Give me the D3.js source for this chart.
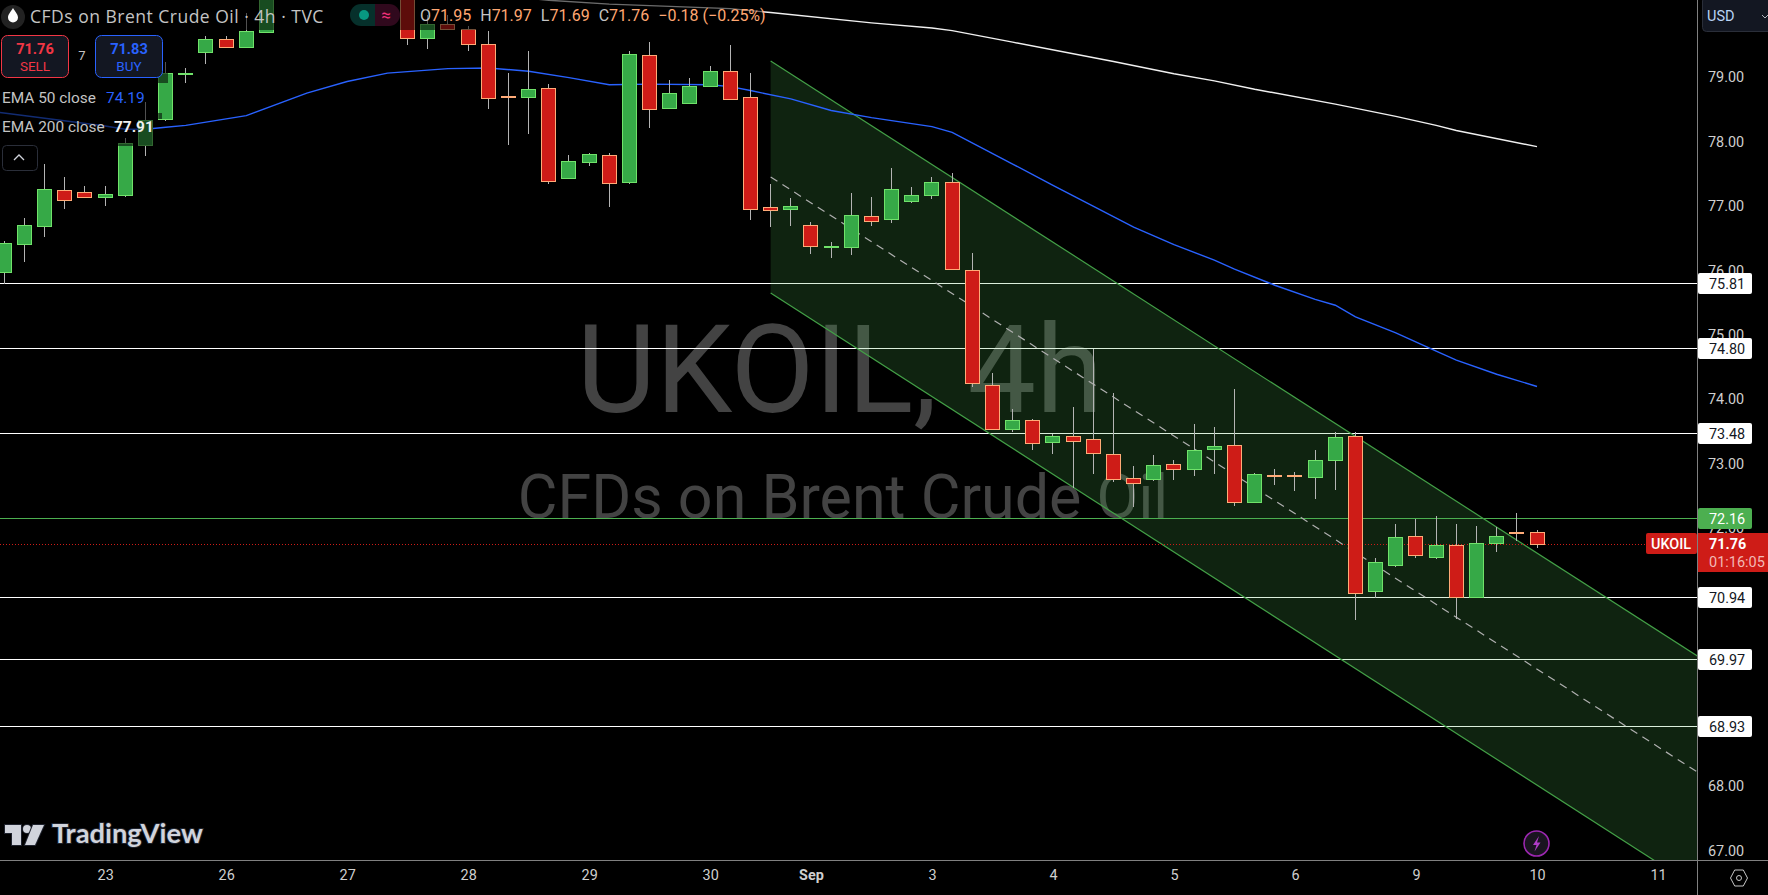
<!DOCTYPE html>
<html>
<head>
<meta charset="utf-8">
<style>
  html, body { margin: 0; padding: 0; background: #000; overflow: hidden; }
  svg { display: block; font-family: Roboto, "Open Sans", sans-serif; }
</style>
<script src="https://cdn.jsdelivr.net/npm/d3@7"></script>
</head>
<body>
<svg id="chart" width="1768" height="895"></svg>
<script>
// candles, one per 4h bar. null = above the visible part of the chart
const opens = [75.98,76.40,76.68,77.24,77.21,77.13,77.16,77.96,78.35,79.05,79.39,79.59,79.46,79.70,null,null,null,null,null,null,80.50,79.61,79.82,79.74,79.51,78.70,78.69,78.83,77.42,77.67,77.79,77.36,79.34,78.51,78.60,78.85,79.09,78.69,76.98,76.96,76.70,76.37,76.37,76.84,76.79,77.07,77.17,77.37,76.00,74.23,73.54,73.68,73.34,73.43,73.38,73.16,72.78,72.77,72.99,72.92,73.22,73.29,72.40,72.82,72.82,72.79,73.05,73.43,71.02,71.42,71.88,71.56,71.74,70.94,71.77,71.95,71.95];
const highs = [76.46,76.81,77.65,77.45,77.31,77.31,78.05,78.62,79.23,79.14,79.64,79.64,79.99,80.60,null,null,null,null,null,null,80.60,79.96,79.96,79.79,79.71,79.06,79.40,78.89,77.79,77.82,77.82,79.40,79.54,78.95,78.99,79.17,79.50,79.06,77.34,77.12,76.75,76.44,77.20,77.14,77.59,77.29,77.45,77.51,76.27,74.41,73.85,73.70,73.46,73.88,74.78,74.10,72.97,73.14,73.06,73.62,73.57,74.16,72.86,72.92,72.87,73.22,73.49,73.49,71.54,72.07,72.14,72.19,72.07,72.04,72.02,72.24,71.97];
const lows = [75.79,76.13,76.52,76.95,77.12,77.00,77.14,77.78,78.32,78.91,79.20,79.45,79.45,79.68,null,null,null,null,null,null,79.49,79.44,79.73,79.40,78.50,77.94,78.12,77.34,77.42,77.62,76.99,77.34,78.21,78.51,78.60,78.85,78.66,76.78,76.67,76.69,76.26,76.20,76.24,76.69,76.74,77.04,77.11,76.02,74.19,73.54,73.49,73.22,73.15,72.62,72.84,72.72,72.33,72.73,72.75,72.81,72.84,72.35,72.40,72.67,72.58,72.46,72.60,70.58,70.92,71.40,71.54,71.52,70.59,70.94,71.63,71.80,71.69];
const closes = [76.43,76.70,77.26,77.08,77.14,77.18,77.97,78.34,79.06,79.06,79.59,79.47,79.71,80.50,null,null,null,null,null,null,79.60,79.82,79.75,79.50,78.68,78.69,78.81,77.39,77.69,77.80,77.36,79.35,78.50,78.75,78.86,79.09,78.66,76.96,76.94,77.00,76.37,76.38,76.86,76.77,77.26,77.17,77.37,76.02,74.25,73.54,73.68,73.33,73.43,73.36,73.17,72.77,72.71,72.98,72.92,73.21,73.27,72.41,72.84,72.81,72.80,73.06,73.41,71.00,71.47,71.86,71.58,71.74,70.94,71.78,71.88,71.93,71.76];

// moving averages, bar index and value at the bends
const ema50Bars = [-1,5,6,7,8,9,12,15,17,19,22,24,26,28,30,32,35,36,37,39,41,43,46,47,50,52,56,58,60,61,63,65,66,67,69,71,72,74,76];
const ema50Values = [78.48,78.24,78.19,78.19,78.22,78.25,78.40,78.75,78.93,79.06,79.13,79.14,79.09,78.99,78.88,78.89,78.88,78.85,78.79,78.66,78.48,78.37,78.23,78.14,77.65,77.32,76.67,76.40,76.16,76.02,75.77,75.55,75.46,75.28,75.03,74.75,74.61,74.39,74.20];
const ema200Bars = [20,27,30,36,38,43,46,47,50,55,58,60,62,66,69,71,72,76];
const ema200Values = [80.40,80.19,80.13,80.06,80.00,79.84,79.76,79.72,79.54,79.24,79.05,78.94,78.81,78.58,78.39,78.25,78.17,77.92];

// regression channel, two ends
const channelBars = [38, 84];
const channelTop = [79.25, 70.01];
const channelBottom = [75.65, 66.41];
const channelMiddle = [77.45, 68.21];

const whiteLevels = [75.81, 74.80, 73.48, 70.94, 69.97, 68.93];
const greenLevel = 72.16;
const lastPrice = 71.76;

const priceTicks = [79, 78, 77, 76, 75, 74, 73, 72, 68, 67];
const dateBars = [5, 11, 17, 23, 29, 35, 40, 46, 52, 58, 64, 70, 76, 82];
const dateLabels = ["23", "26", "27", "28", "29", "30", "Sep", "3", "4", "5", "6", "9", "10", "11"];

const plotRight = 1697;
const plotBottom = 860;

const svg = d3.select("#chart");
const x = d3.scaleLinear().domain([0, 76]).range([4.3, 1537]);
const y = d3.scaleLinear().domain([67, 79]).range([850.7, 77]);

svg.append("defs").append("clipPath").attr("id", "plot")
  .append("rect").attr("width", plotRight).attr("height", plotBottom);

const plot = svg.append("g").attr("clip-path", "url(#plot)");

// watermark
plot.append("text").attr("x", 840).attr("y", 412).attr("text-anchor", "middle")
  .attr("font-size", 122).attr("fill", "#434343").text("UKOIL, 4h");
plot.append("text").attr("x", 843).attr("y", 518).attr("text-anchor", "middle")
  .attr("font-size", 61).attr("fill", "#434343").text("CFDs on Brent Crude Oil");

// horizontal levels
whiteLevels.forEach(v => {
  plot.append("line").attr("x1", 0).attr("x2", plotRight)
    .attr("y1", Math.round(y(v)) + 0.5).attr("y2", Math.round(y(v)) + 0.5)
    .attr("stroke", "#fff").attr("stroke-width", 1);
});
plot.append("line").attr("x1", 0).attr("x2", plotRight)
  .attr("y1", Math.round(y(greenLevel)) + 0.5).attr("y2", Math.round(y(greenLevel)) + 0.5)
  .attr("stroke", "#4caf50").attr("stroke-width", 1);

// channel
const area = d3.area()
  .x((d, i) => x(channelBars[i]))
  .y0((d, i) => y(channelBottom[i]))
  .y1((d, i) => y(channelTop[i]));
plot.append("path").attr("d", area(channelBars))
  .attr("fill", "#4caf50").attr("fill-opacity", 0.2);

const channelLine = d3.line().x((d, i) => x(channelBars[i])).y(d => y(d));
plot.append("path").attr("d", channelLine(channelTop)).attr("fill", "none").attr("stroke", "#43a047").attr("stroke-width", 1.2);
plot.append("path").attr("d", channelLine(channelBottom)).attr("fill", "none").attr("stroke", "#43a047").attr("stroke-width", 1.2);
plot.append("path").attr("d", channelLine(channelMiddle)).attr("fill", "none").attr("stroke", "#b0b0b0")
  .attr("stroke-width", 1.2).attr("stroke-dasharray", "8 6");

// last price line
plot.append("line").attr("x1", 0).attr("x2", plotRight)
  .attr("y1", Math.round(y(lastPrice)) + 0.5).attr("y2", Math.round(y(lastPrice)) + 0.5)
  .attr("stroke", "#ce1c17").attr("stroke-width", 1).attr("stroke-dasharray", "1 2");

// ema lines
const emaLine = bars => d3.line().x((d, i) => x(bars[i])).y(d => y(d));
plot.append("path").attr("d", emaLine(ema50Bars)(ema50Values))
  .attr("fill", "none").attr("stroke", "#2962ff").attr("stroke-width", 1.4);
plot.append("path").attr("d", emaLine(ema200Bars)(ema200Values))
  .attr("fill", "none").attr("stroke", "#f0f0f0").attr("stroke-width", 1.4);

// candles
const bars = d3.range(opens.length).filter(i => opens[i] !== null);
const candles = plot.append("g").selectAll("g").data(bars).enter().append("g")
  .attr("shape-rendering", "crispEdges");

candles.append("line")
  .attr("x1", i => Math.floor(x(i)) + 0.5).attr("x2", i => Math.floor(x(i)) + 0.5)
  .attr("y1", i => y(highs[i])).attr("y2", i => y(lows[i]))
  .attr("stroke", "#b4b4b4");

candles.append("rect")
  .attr("x", i => Math.floor(x(i)) - 6.5)
  .attr("width", 14)
  .attr("y", i => Math.round(y(Math.max(opens[i], closes[i]))) + 0.5)
  .attr("height", i => Math.max(1, Math.round(y(Math.min(opens[i], closes[i])) - y(Math.max(opens[i], closes[i])))))
  .attr("fill", i => closes[i] >= opens[i] ? "#36a947" : "#ce1c17")
  .attr("stroke", i => closes[i] >= opens[i] ? "#70e26a" : "#ffab78");

// legend panels dim whatever is under them
const shades = [[0, 0, 762, 30], [0, 30, 168, 53], [0, 84, 150, 29], [0, 113, 162, 6], [0, 119, 153, 27]];
svg.append("g").selectAll("rect").data(shades).enter().append("rect")
  .attr("x", d => d[0]).attr("y", d => d[1]).attr("width", d => d[2]).attr("height", d => d[3])
  .attr("fill", "#000").attr("fill-opacity", 0.55);

// axes
const yAxis = d3.axisRight(y).tickValues(priceTicks).tickSize(0).tickPadding(11).tickFormat(d3.format(".2f"));
const yAxisG = svg.append("g").attr("transform", `translate(${plotRight},0)`).call(yAxis);
yAxisG.select(".domain").remove();
yAxisG.selectAll("text").attr("font-family", "Roboto").attr("font-size", 14.4).attr("fill", "#cfcfcf");

const xAxis = d3.axisBottom(x).tickValues(dateBars).tickSize(0).tickPadding(10)
  .tickFormat(d => dateLabels[dateBars.indexOf(d)]);
const xAxisG = svg.append("g").attr("transform", `translate(0,${plotBottom})`).call(xAxis);
xAxisG.select(".domain").remove();
xAxisG.selectAll("text").attr("font-family", "Roboto").attr("font-size", 14.4).attr("fill", "#cfcfcf")
  .attr("font-weight", d => d === 40 ? 700 : 400);

svg.append("line").attr("x1", 0).attr("x2", 1768).attr("y1", 860.5).attr("y2", 860.5).attr("stroke", "#808080");
svg.append("line").attr("x1", plotRight + 0.5).attr("x2", plotRight + 0.5).attr("y1", 0).attr("y2", 895).attr("stroke", "#808080");

// price tags
function priceTag(v, bg, fg) {
  const cy = y(v);
  svg.append("rect").attr("x", 1698).attr("y", Math.round(cy) - 10).attr("width", 54).attr("height", 21)
    .attr("rx", 2).attr("fill", bg);
  svg.append("text").attr("x", 1709).attr("y", Math.round(cy) + 5.5).attr("font-size", 14.4)
    .attr("fill", fg).text(v.toFixed(2));
}
whiteLevels.forEach(v => priceTag(v, "#fff", "#131722"));
priceTag(greenLevel, "#4caf50", "#fff");

svg.append("rect").attr("x", 1646).attr("y", 533).attr("width", 51).attr("height", 21).attr("rx", 2).attr("fill", "#ce1c17");
svg.append("text").attr("x", 1651).attr("y", 549).attr("font-size", 14.4).attr("font-weight", 500).attr("fill", "#fff").text("UKOIL");
svg.append("rect").attr("x", 1698).attr("y", 533).attr("width", 70).attr("height", 39).attr("fill", "#ce1c17");
svg.append("text").attr("x", 1709).attr("y", 549).attr("font-size", 14.4).attr("font-weight", 700).attr("fill", "#fff").text(lastPrice.toFixed(2));
svg.append("text").attr("x", 1709).attr("y", 567).attr("font-size", 14.5).attr("fill", "#f2b8b5").text("01:16:05");

// currency button
svg.append("rect").attr("x", 1702.5).attr("y", -3).attr("width", 80).attr("height", 34.5).attr("rx", 4)
  .attr("fill", "#131722").attr("stroke", "#2a2e39");
svg.append("text").attr("x", 1707).attr("y", 21).attr("font-size", 14.5).attr("fill", "#b9d4f5").text("USD");
svg.append("path").attr("d", "M1762 15l3 3l3-3").attr("fill", "none").attr("stroke", "#b2b5be");

// settings hexagon
svg.append("path").attr("d", "M1730.5 878l4.2-8h8.6l4.2 8l-4.2 8h-8.6z").attr("fill", "none").attr("stroke", "#c8c8c8");
svg.append("circle").attr("cx", 1739).attr("cy", 878).attr("r", 2.5).attr("fill", "none").attr("stroke", "#c8c8c8");

// lightning badge
svg.append("circle").attr("cx", 1536.5).attr("cy", 843.5).attr("r", 12.5).attr("fill", "#1a1420").attr("stroke", "#9c27b0").attr("stroke-width", 1.6);
svg.append("path").attr("d", "M1539 836l-6 9h3.5l-2 6.5l6-9h-3.5z").attr("fill", "#b03cc8");

// top legend
svg.append("circle").attr("cx", 13).attr("cy", 17).attr("r", 12).attr("fill", "#222");
svg.append("path").attr("d", "M13 8c-2.5 4-5 6.5-5 9.5a5 5 0 0 0 10 0c0-3-2.500-5.500-5-9.500z").attr("fill", "#fff");
svg.append("text").attr("x", 30).attr("y", 23).attr("font-family", "Open Sans").attr("font-size", 17.5)
  .attr("letter-spacing", 0.5).attr("fill", "#c4c4c4")
  .text("CFDs on Brent Crude Oil · 4h · TVC");

svg.append("path").attr("d", "M375 4h-14a11 11 0 0 0 0 22h14z").attr("fill", "#06302b");
svg.append("path").attr("d", "M375 4h14a11 11 0 0 1 0 22h-14z").attr("fill", "#30091d");
svg.append("circle").attr("cx", 364).attr("cy", 15).attr("r", 5).attr("fill", "#089981");
svg.append("text").attr("x", 386).attr("y", 21).attr("font-size", 17).attr("text-anchor", "middle").attr("fill", "#f0307a").text("≈");

const ohlc = [["O", "71.95"], ["H", "71.97"], ["L", "71.69"], ["C", "71.76"], ["", "−0.18 (−0.25%)"]];
const ohlcText = svg.append("text").attr("x", 420).attr("y", 21).attr("font-size", 16);
ohlc.forEach((d, i) => {
  ohlcText.append("tspan").attr("fill", "#c4c4c4").attr("dx", d[0] && i ? 9 : 0).text(d[0]);
  ohlcText.append("tspan").attr("fill", "#ffa772").attr("dx", d[0] ? 0 : 9).text(d[1]);
});

// sell and buy buttons
function tradeButton(bx, color, price, label) {
  svg.append("rect").attr("x", bx + 0.5).attr("y", 35.5).attr("width", 67).attr("height", 42).attr("rx", 6)
    .attr("fill", "#131722").attr("stroke", color);
  svg.append("text").attr("x", bx + 34).attr("y", 54).attr("text-anchor", "middle")
    .attr("font-size", 14.6).attr("font-weight", 700).attr("fill", color).text(price);
  svg.append("text").attr("x", bx + 34).attr("y", 71).attr("text-anchor", "middle")
    .attr("font-size", 13.5).attr("fill", color).text(label);
}
tradeButton(1, "#f23645", "71.76", "SELL");
tradeButton(95, "#2962ff", "71.83", "BUY");
svg.append("text").attr("x", 82).attr("y", 60).attr("text-anchor", "middle").attr("font-size", 13).attr("fill", "#c4c4c4").text("7");

svg.append("text").attr("x", 2).attr("y", 103).attr("font-size", 15.4).attr("fill", "#c4c4c4").text("EMA 50 close");
svg.append("text").attr("x", 106).attr("y", 103).attr("font-size", 15.4).attr("fill", "#2962ff").text("74.19");
svg.append("text").attr("x", 2).attr("y", 132).attr("font-size", 15.4).attr("fill", "#c4c4c4").text("EMA 200 close");
svg.append("text").attr("x", 114).attr("y", 132).attr("font-size", 15.4).attr("font-weight", 700).attr("fill", "#f0f0f0").text("77.91");

svg.append("rect").attr("x", 2.5).attr("y", 145.5).attr("width", 35).attr("height", 25).attr("rx", 4)
  .attr("fill", "#000").attr("stroke", "#2a2e39");
svg.append("path").attr("d", "M14 160l5-5l5 5").attr("fill", "none").attr("stroke", "#d1d4dc").attr("stroke-width", 1.3);

// logo
const logo = svg.append("g").attr("fill", "#d1d4dc").attr("stroke", "#1e222d").attr("stroke-width", 2).attr("paint-order", "stroke");
logo.append("path").attr("d", "M5 825h16v20h-9v-12h-7z");
logo.append("circle").attr("cx", 27).attr("cy", 829).attr("r", 4);
logo.append("path").attr("d", "M33 825h11l-9 20h-10z");
logo.append("text").attr("x", 52).attr("y", 843).attr("font-family", "Lato").attr("font-size", 27.3).attr("font-weight", 700).text("TradingView");
</script>
</body>
</html>
